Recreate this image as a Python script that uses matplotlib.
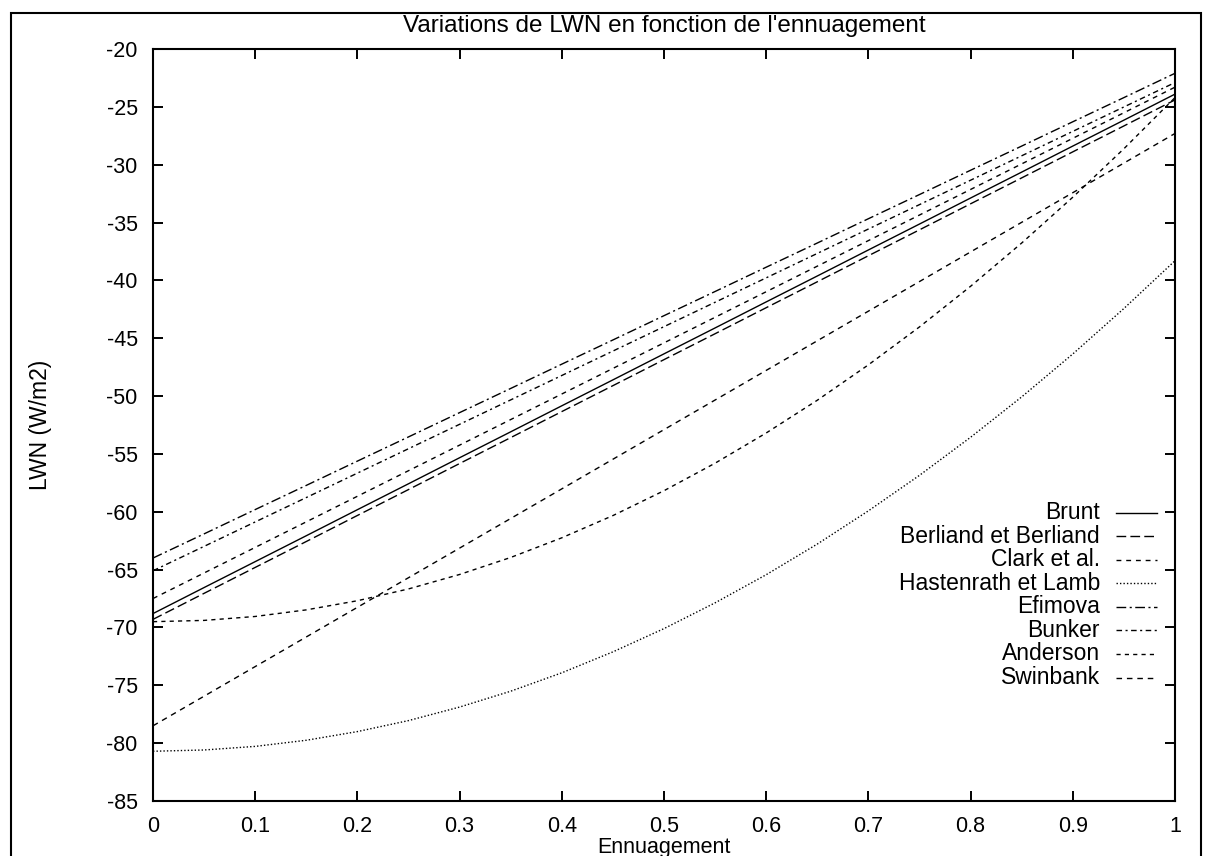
import matplotlib
matplotlib.use("Agg")
import matplotlib.pyplot as plt
from matplotlib.lines import Line2D
from matplotlib.patches import Rectangle

plt.rcParams['font.family'] = ['Liberation Sans', 'DejaVu Sans']

# Cloud cover (ennuagement)
x = [0.00, 0.05, 0.10, 0.15, 0.20, 0.25, 0.30, 0.35, 0.40, 0.45, 0.50,
     0.55, 0.60, 0.65, 0.70, 0.75, 0.80, 0.85, 0.90, 0.95, 1.00]

brunt = [-68.8, -66.55, -64.31, -62.07, -59.82, -57.58, -55.33, -53.09, -50.84, -48.60, -46.35,
         -44.11, -41.86, -39.62, -37.37, -35.13, -32.88, -30.64, -28.39, -26.15, -23.9]
berliand = [-69.3, -67.05, -64.81, -62.57, -60.32, -58.08, -55.83, -53.59, -51.34, -49.10, -46.85,
            -44.61, -42.36, -40.12, -37.87, -35.63, -33.38, -31.14, -28.89, -26.65, -24.4]
clark = [-67.5, -65.29, -63.08, -60.87, -58.66, -56.45, -54.24, -52.03, -49.82, -47.61, -45.40,
         -43.19, -40.98, -38.77, -36.56, -34.35, -32.14, -29.93, -27.72, -25.51, -23.3]
hastenrath = [-80.7, -80.59, -80.28, -79.75, -79.00, -78.05, -76.88, -75.51, -73.92, -72.11, -70.10,
              -67.87, -65.44, -62.79, -59.92, -56.85, -53.56, -50.07, -46.36, -42.43, -38.3]
efimova = [-64.0, -61.91, -59.81, -57.72, -55.62, -53.53, -51.43, -49.34, -47.24, -45.15, -43.05,
           -40.96, -38.86, -36.77, -34.67, -32.58, -30.48, -28.39, -26.29, -24.20, -22.1]
bunker = [-65.1, -62.99, -60.88, -58.77, -56.66, -54.55, -52.44, -50.33, -48.22, -46.11, -44.00,
          -41.89, -39.78, -37.67, -35.56, -33.45, -31.34, -29.23, -27.12, -25.01, -22.9]
anderson = [-69.5, -69.39, -69.05, -68.48, -67.69, -66.67, -65.42, -63.95, -62.25, -60.33, -58.18,
            -55.80, -53.19, -50.36, -47.30, -44.02, -40.51, -36.77, -32.81, -28.62, -24.2]
swinbank = [-78.5, -75.94, -73.38, -70.82, -68.26, -65.70, -63.14, -60.58, -58.02, -55.46, -52.90,
            -50.34, -47.78, -45.22, -42.66, -40.10, -37.54, -34.98, -32.42, -29.86, -27.3]

labels = ["Brunt", "Berliand et Berliand", "Clark et al.", "Hastenrath et Lamb",
          "Efimova", "Bunker", "Anderson", "Swinbank"]
series = [brunt, berliand, clark, hastenrath, efimova, bunker, anderson, swinbank]
styles = ['-', (0, (7, 3)), (0, (3.5, 3.5)), (0, (1, 1.5)),
          (0, (7, 2.5, 1.5, 2.5)), (0, (4, 2.5, 1.5, 2.5)), (0, (3, 3)), (0, (4, 3.5))]

xticks = [0, 0.1, 0.2, 0.3, 0.4, 0.5, 0.6, 0.7, 0.8, 0.9, 1]
xticklabels = ["0", "0.1", "0.2", "0.3", "0.4", "0.5", "0.6", "0.7", "0.8", "0.9", "1"]
yticks = [-85, -80, -75, -70, -65, -60, -55, -50, -45, -40, -35, -30, -25, -20]

W, H = 1214, 856
fig = plt.figure(figsize=(W / 100, H / 100), dpi=100)
ax = fig.add_axes([153 / W, 1 - 801 / H, (1175 - 153) / W, (801 - 49) / H])

for ys, ls in zip(series, styles):
    ax.plot(x, ys, color='black', linestyle=ls, linewidth=1.0)

ax.set_xlim(0, 1)
ax.set_ylim(-85, -20)
ax.set_xticks(xticks)
ax.set_xticklabels(xticklabels)
ax.set_yticks(yticks)
ax.set_yticklabels([str(v) for v in yticks])
ax.tick_params(direction='in', length=7, width=1.4, labelsize=15.5,
               top=True, right=True, pad=11)
for s in ax.spines.values():
    s.set_linewidth(1.5)

ax.set_xlabel("Ennuagement", fontsize=15.5, labelpad=0)
ax.set_ylabel("LWN (W/m2)", fontsize=16.5)
ax.yaxis.set_label_coords((52 - 153) / 1022, 0.5)

# legend (gnuplot style: right-aligned text, sample on the right)
y0 = (801 - 512.7) / 752
dy = 23.55 / 752
for i, (lab, ls) in enumerate(zip(labels, styles)):
    yy = y0 - i * dy
    ax.text(0.9266, yy, lab, transform=ax.transAxes, ha='right', va='center', fontsize=16.5)
    ax.add_line(Line2D([0.942, 0.9824], [yy, yy], transform=ax.transAxes,
                       color='black', linestyle=ls, linewidth=1.0))

fig.text((153 + 1175) / 2 / W, 1 - 26 / H, "Variations de LWN en fonction de l'ennuagement",
         ha='center', va='center', fontsize=17.5)

fig.patches.append(Rectangle((11 / W, -0.05), (1201 - 11) / W, 1.05 - 13 / H,
                             transform=fig.transFigure, fill=False,
                             edgecolor='black', linewidth=1.5))

fig.savefig("out.png", dpi=100)
